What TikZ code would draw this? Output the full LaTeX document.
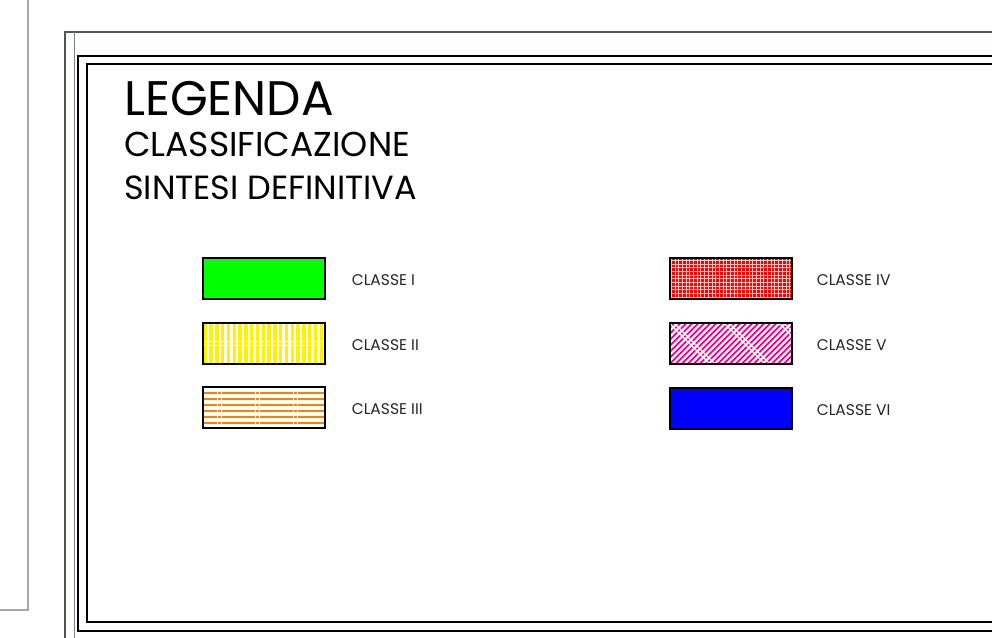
\documentclass[tikz,border=0pt]{standalone}
\usepackage{fontspec}
\setmainfont{Poppins}
\usepackage{tikz}
\usetikzlibrary{positioning}

\definecolor{framegreen}{HTML}{4A5A4A}
\definecolor{classorange}{HTML}{FF8000}

\tikzset{
    legbox/.style={draw=black, line width=1.6pt, minimum width=122pt, minimum height=41pt, inner sep=0pt, anchor=north west},
    lbl/.style={font=\fontsize{15.5}{16}\selectfont, inner sep=0pt, text=black!85},
    title/.style={anchor=base west, inner sep=0pt}
}

\begin{document}
\begin{tikzpicture}[x=1pt, y=-1pt]
        \useasboundingbox (0,0) rectangle (992,637);
        \clip (0,0) rectangle (992,637);

        % frame
        \draw[gray!70, line width=1.2pt] (28,0) -- (28,610) -- (0,610);
        \draw[framegreen, line width=1.6pt] (65,640) -- (65,32) -- (1000,32);
        \draw[gray, line width=1pt] (74,640) -- (74,32);
        \draw[black, line width=2pt] (78,56) rectangle (1000,631);
        \draw[black, line width=1.5pt] (87,64) rectangle (1000,622);

        % titles
        \node[title, font=\fontsize{48.5}{50}\selectfont] (leg) at (124,115) {LEGENDA};
        \node[title, font=\fontsize{34.5}{36}\selectfont] (cls) at (124,156) {CLASSIFICAZIONE};
        \node[title, font=\fontsize{33.5}{36}\selectfont] (sin) at (124,199) {SINTESI DEFINITIVA};

        % classe I
        \node[legbox, fill=green] (c1) at (202,257) {};
        % classe II
        \node[legbox, path picture={
            \foreach \i in {0,...,20}
                \draw[yellow, line width=3.3pt] ([xshift=\i*5.8pt+2.5pt]path picture bounding box.south west) -- ++(0pt,41pt);
            \draw[white, line width=1.2pt] ([yshift=2pt]path picture bounding box.west) -- ++(122pt,0pt);
            \draw[white, line width=1.2pt] ([yshift=-2pt]path picture bounding box.west) -- ++(122pt,0pt);
        }] (c2) at (202,322) {};
        % classe III
        \node[legbox, path picture={
            \foreach \j in {1,...,6}
                \draw[classorange, line width=1.6pt] ([yshift=-\j*6pt]path picture bounding box.north west) -- ++(122pt,0pt);
            \foreach \k in {15,53,91}
            {
                \draw[white, line width=1.3pt] ([xshift=\k*1pt]path picture bounding box.south west) -- ++(0pt,41pt);
                \draw[white, line width=1.3pt] ([xshift=\k*1pt+4pt]path picture bounding box.south west) -- ++(0pt,41pt);
            }
        }] (c3) at (202,386) {};
        % classe IV
        \node[legbox, fill=red, path picture={
            \foreach \i in {0,...,33}
                \draw[white!75!red, line width=1pt] ([xshift=\i*3.7pt+1.5pt]path picture bounding box.south west) -- ++(0pt,41pt);
            \foreach \j in {0,...,11}
                \draw[white!75!red, line width=1pt] ([yshift=\j*3.7pt+1.5pt]path picture bounding box.south west) -- ++(122pt,0pt);
        }] (c4) at (669,257) {};
        % classe V
        \node[legbox, path picture={
            \foreach \i in {-8,...,22}
                \draw[magenta, line width=1.9pt] ([xshift=\i*6pt]path picture bounding box.south west) -- ++(45pt,45pt);
            \foreach \k in {40,95,150}
            {
                \draw[white, line width=1.2pt] ([xshift=\k*1pt]path picture bounding box.south west) -- ++(-45pt,45pt);
                \draw[white, line width=1.2pt] ([xshift=\k*1pt+5pt]path picture bounding box.south west) -- ++(-45pt,45pt);
            }
        }] (c5) at (669,322) {};
        % classe VI
        \node[legbox, fill=blue] (c6) at (669,387) {};

        % labels
        \node[lbl, right=26pt of c1, yshift=-2pt] (l1) {CLASSE I};
        \node[lbl, right=26pt of c2, yshift=-2pt] (l2) {CLASSE II};
        \node[lbl, right=26pt of c3, yshift=-2pt] (l3) {CLASSE III};
        \node[lbl, right=24pt of c4, yshift=-2pt] (l4) {CLASSE IV};
        \node[lbl, right=24pt of c5, yshift=-2pt] (l5) {CLASSE V};
        \node[lbl, right=24pt of c6, yshift=-2pt] (l6) {CLASSE VI};

    \end{tikzpicture}
\end{document}
